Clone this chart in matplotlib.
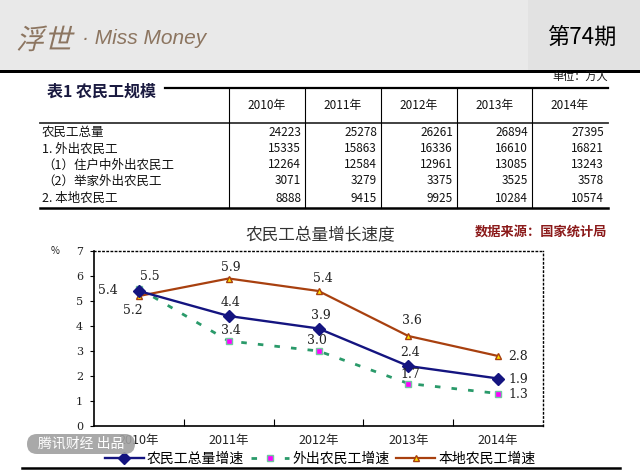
import matplotlib
matplotlib.use('Agg')
import matplotlib.pyplot as plt
from matplotlib.textpath import TextPath
from matplotlib.patches import PathPatch, FancyBboxPatch, Rectangle
from matplotlib.font_manager import FontProperties
from matplotlib.transforms import Affine2D

plt.rcParams['font.family'] = ['Noto Sans CJK SC', 'DejaVu Sans']

# ---------------- data ----------------
table_years = ['2010年', '2011年', '2012年', '2013年', '2014年']
row_labels = ['农民工总量', '1. 外出农民工', '（1）住户中外出农民工', '（2）举家外出农民工', '2. 本地农民工']
total_workers = [24223, 25278, 26261, 26894, 27395]
migrant_workers = [15335, 15863, 16336, 16610, 16821]
household_migrant = [12264, 12584, 12961, 13085, 13243]
family_migrant = [3071, 3279, 3375, 3525, 3578]
local_workers = [8888, 9415, 9925, 10284, 10574]

chart_years = ['2010年', '2011年', '2012年', '2013年', '2014年']
growth_total = [5.4, 4.4, 3.9, 2.4, 1.9]
growth_migrant = [5.5, 3.4, 3.0, 1.7, 1.3]
growth_local = [5.2, 5.9, 5.4, 3.6, 2.8]
y_ticks = [0, 1, 2, 3, 4, 5, 6, 7]
series_names = ['农民工总量增速', '外出农民工增速', '本地农民工增速']

# ---------------- layout ----------------
W, H = 640, 471
fig = plt.figure(figsize=(6.4, 4.71), dpi=100)
fig.patch.set_facecolor('white')

bg = fig.add_axes([0, 0, 1, 1], zorder=0)
bg.set_xlim(0, W); bg.set_ylim(H, 0); bg.axis('off')

# header band
bg.add_patch(Rectangle((0, 0), 528, 70, color='#e9e9e9', lw=0))
bg.add_patch(Rectangle((528, 0), 112, 70, color='#e2e2e2', lw=0))
bg.add_patch(Rectangle((0, 70), 640, 3, color='black', lw=0))

brown = '#8c7560'
tp = TextPath((0, 0), '浮世', size=28, prop=FontProperties(family='Noto Sans CJK SC'))
tr = Affine2D().skew_deg(14, 0).scale(1, -1).translate(16, 49)
bg.add_patch(PathPatch(tr.transform_path(tp), fc=brown, ec='none', lw=0))
bg.text(82, 38, '· Miss Money', ha='left', va='center', fontsize=15,
        style='italic', family=['Liberation Sans', 'DejaVu Sans'], color=brown)
bg.text(582, 37, '第74期', ha='center', va='center', fontsize=16, color='black')

# table
bg.text(47, 92, '表1 农民工规模', ha='left', va='center', fontsize=11.5,
        weight='bold', color='#1a1a40')
bg.text(608, 77, '单位：万人', ha='right', va='center', fontsize=8, color='#111')
col_edges = [229, 305, 381, 457, 532, 608]
bg.plot([165, 608], [88, 88], color='black', lw=1.6)
bg.plot([40, 608], [123, 123], color='#333', lw=1.3)
bg.plot([40, 608], [208, 208], color='black', lw=1.8)
for xe in col_edges[:-1]:
    bg.plot([xe, xe], [88, 208], color='black', lw=0.8)
for i, yr in enumerate(table_years):
    bg.text((col_edges[i] + col_edges[i + 1]) / 2, 105, yr, ha='center', va='center',
            fontsize=8.5, color='#111')
rows = [total_workers, migrant_workers, household_migrant, family_migrant, local_workers]
row_y = [132, 149, 165, 181, 198]
for r, (lab, vals) in enumerate(zip(row_labels, rows)):
    bg.text(42, row_y[r], lab, ha='left', va='center', fontsize=9, color='#111')
    for i, v in enumerate(vals):
        bg.text(col_edges[i + 1] - 4, row_y[r], str(v), ha='right', va='center',
                fontsize=8.5, color='#111')

# chart title & source
bg.text(320, 236, '农民工总量增长速度', ha='center', va='center', fontsize=12, color='#333')
bg.text(541, 232, '数据来源：国家统计局', ha='center', va='center', fontsize=9.5,
        weight='bold', color='#8b1a1a')
bg.text(55, 251, '%', ha='center', va='center', fontsize=7, color='#222')
bg.plot([22, 620], [468, 468], color='black', lw=1.8)

# ---------------- chart ----------------
ax = fig.add_axes([94 / W, 1 - 426 / H, 449 / W, 175 / H], zorder=2)
ax.set_facecolor('none')
x = list(range(len(chart_years)))
ax.set_xlim(-0.5, 4.5)
ax.set_ylim(0, 7)

navy = '#141480'
green = '#2a9a6a'
rust = '#a8400f'
l1, = ax.plot(x, growth_total, color=navy, lw=1.7, marker='D', ms=6,
              mfc=navy, mec=navy, zorder=4)
l2, = ax.plot(x, growth_migrant, color=green, lw=2, dashes=(2, 4), marker='s', ms=5,
              mfc='#ff00ff', mec='#70c8a0', zorder=3)
l3, = ax.plot(x, growth_local, color=rust, lw=1.6, marker='^', ms=5,
              mfc='#ffe000', mec=rust, zorder=3)

px = 0.72
off_total = [(-31, 0), (2, 13), (2, 13), (2, 13), (20, -1)]
off_migrant = [(11, 12), (2, 11), (-2, 11), (2, 9), (20, -1)]
off_local = [(-6, -15), (2, 11), (4, 13), (4, 15), (20, -1)]
for vals, offs in ((growth_total, off_total), (growth_migrant, off_migrant),
                   (growth_local, off_local)):
    for xi, v, (dx, dy) in zip(x, vals, offs):
        ax.annotate(f'{v:.1f}', (xi, v), xytext=(dx * px, dy * px), textcoords='offset points',
                    ha='center', va='center', fontsize=9, family='DejaVu Serif',
                    color='#222', zorder=5)

for s in ('left', 'bottom'):
    ax.spines[s].set_color('black'); ax.spines[s].set_linewidth(1.2)
for s in ('top', 'right'):
    ax.spines[s].set_color('black'); ax.spines[s].set_linewidth(1.0)
    ax.spines[s].set_linestyle((0, (1, 2)))

ax.set_yticks(y_ticks)
ax.set_yticklabels([str(t) for t in y_ticks], fontsize=8, family='DejaVu Serif', color='#222')
ax.tick_params(axis='y', direction='out', length=3, pad=5)
ax.set_xticks(x)
ax.set_xticklabels(chart_years, fontsize=9, color='#222')
ax.tick_params(axis='x', which='major', length=0, pad=6)
ax.set_xticks([0.5, 1.5, 2.5, 3.5], minor=True)
ax.tick_params(axis='x', which='minor', direction='in', length=5, width=0.8)

fig.legend(handles=[l1, l2, l3], labels=series_names, loc='center',
           bbox_to_anchor=(320 / W, 1 - 459 / H), ncol=3, frameon=False, fontsize=10,
           handlelength=2.8, handletextpad=0.2, columnspacing=0.5, borderaxespad=0)

# ---------------- watermark ----------------
top = fig.add_axes([0, 0, 1, 1], zorder=10)
top.set_facecolor('none')
top.set_xlim(0, W); top.set_ylim(H, 0); top.axis('off')
top.add_patch(FancyBboxPatch((27, 434), 108, 20, boxstyle='round,pad=0,rounding_size=10',
                             fc='#a0a0a0', ec='none', alpha=0.9))
top.text(81, 444, '腾讯财经 出品', ha='center', va='center', fontsize=10, color='white')

fig.savefig('out.png', dpi=100)
